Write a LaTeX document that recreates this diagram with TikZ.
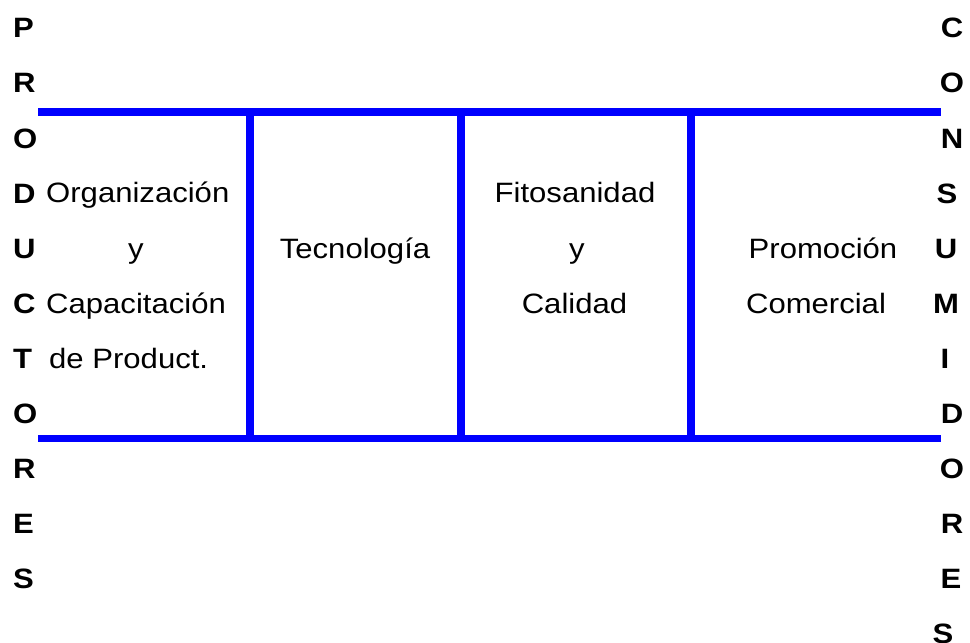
\documentclass[tikz,border=0pt]{standalone}
\usepackage{fontspec}
\setmainfont{Liberation Sans}[FakeStretch=1.11]
\usepackage{tikz}
\tikzset{
	barra/.style={line width=7.5pt, color=blue},
	letra/.style={font=\fontsize{28}{30}\selectfont\bfseries, inner sep=0pt, anchor=base},
	texto/.style={font=\fontsize{28}{30}\selectfont, inner sep=0pt, anchor=base}
}

\begin{document}
\begin{tikzpicture}[x=1pt, y=-1pt]
		%%%%% START %%%%%
		\useasboundingbox (0, 0) rectangle (970, 643);
		
		\foreach \l [count=\i from 0] in {P,R,O,D,U,C,T,O,R,E,S}
			\node[letra, anchor=base west] (prod\i) at (13, 37.8+55.1*\i) {\l};
		
		\foreach \l/\x [count=\i from 0] in {C/952,O/952,N/952,S/947,U/946,M/946,I/945,D/952,O/952,R/952,E/951,S/943}
			\node[letra] (cons\i) at (\x, 37.8+55.1*\i) {\l};
		
		\coordinate (tl) at (38, 112);
		\coordinate (tr) at (941, 112);
		\coordinate (bl) at (38, 438.5);
		\coordinate (br) at (941, 438.5);
		\draw[barra] (tl) -- (tr);
		\draw[barra] (bl) -- (br);
		
		\coordinate (t1) at (250, 112);
		\coordinate (b1) at (250, 438.5);
		\coordinate (t2) at (461, 112);
		\coordinate (b2) at (461, 438.5);
		\coordinate (t3) at (691, 112);
		\coordinate (b3) at (691, 438.5);
		\draw[barra] (t1) -- (b1);
		\draw[barra] (t2) -- (b2);
		\draw[barra] (t3) -- (b3);
		
		\node[texto, anchor=base west] (org) at (46, 202.9) {Organización};
		\node[texto] (y1) at (136, 258) {y};
		\node[texto, anchor=base west] (cap) at (46, 313.1) {Capacitación};
		\node[texto, anchor=base west] (prd) at (49, 368.2) {de Product.};
		
		\node[texto] (tec) at (355, 258) {Tecnología};
		
		\node[texto] (fit) at (575, 202.9) {Fitosanidad};
		\node[texto] (y2) at (577, 258) {y};
		\node[texto] (cal) at (574.5, 313.1) {Calidad};
		
		\node[texto] (pro) at (823, 258) {Promoción};
		\node[texto] (com) at (816, 313.1) {Comercial};
		%%%%% END %%%%%
\end{tikzpicture}
\end{document}
